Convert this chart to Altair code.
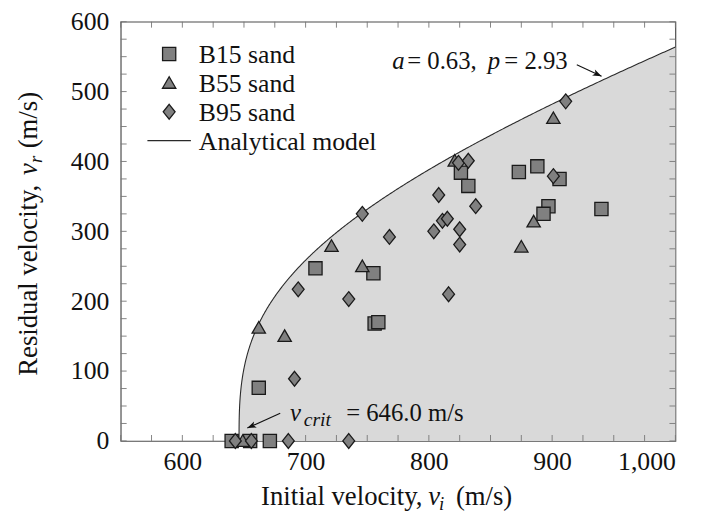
import altair as alt
import numpy as np
import pandas as pd

FONT = "Liberation Serif, DejaVu Serif, serif"

# ---------------- data ----------------
b15_vi = [640, 655, 671, 662, 708, 755, 756, 759, 826, 832, 873, 888, 906, 897, 893, 940]
b15_vr = [0, 0, 0, 76, 247, 240, 168, 170, 384, 365, 385, 393, 375, 336, 325, 332]

b55_vi = [649, 662, 683, 721, 746, 821, 875, 885, 901]
b55_vr = [0, 162, 150, 279, 250, 401, 278, 314, 462]

b95_vi = [643, 656, 686, 735, 691, 694, 735, 746, 768, 804, 811, 815, 808,
          816, 825, 825, 824, 832, 838, 901, 911]
b95_vr = [0, 0, 0, 0, 89, 217, 203, 325, 292, 300, 315, 318, 352,
          210, 303, 281, 398, 401, 336, 379, 486]

series_names = ["B15 sand", "B55 sand", "B95 sand", "Analytical model"]

# analytical model parameters (as annotated on the chart)
a_par = 0.63
p_par = 2.93
v_crit = 646.0
v_max = 1000.0

x_tick_labels = [600, 700, 800, 900, 1000]
y_tick_labels = [0, 100, 200, 300, 400, 500, 600]
x_minor = list(range(550, 1001, 25))
y_minor = list(range(0, 601, 25))

# annotation anchors (data coordinates)
ann1_x = [770.3, 782.4, 847.8, 861.2]
ann1_t = ["a", "= 0.63,", "p", "= 2.93"]
ann1_y = 532.0
ann2_x = [687.4, 698.4, 732.9]
ann2_t = ["v", "crit", "= 646.0 m/s"]
ann2_y = [28.2, 21.2, 28.2]
arrow_x = [920.0, 679.4]
arrow_y = [538.3, 39.5]
arrow_x2 = [940.1, 652.7]
arrow_y2 = [522.0, 18.4]
arrow_ang = [25, 156]

# ---------------- tables ----------------
pts = pd.DataFrame({
    "vi": b15_vi + b55_vi + b95_vi,
    "vr": b15_vr + b55_vr + b95_vr,
    "series": ["B15 sand"] * len(b15_vi) + ["B55 sand"] * len(b55_vi) + ["B95 sand"] * len(b95_vi),
})

t = np.linspace(0.0, 1.0, 400)
vi_m = v_crit + (v_max - v_crit) * t ** 2
vr_m = a_par * np.power(np.maximum(vi_m ** p_par - v_crit ** p_par, 0.0), 1.0 / p_par)
model = pd.DataFrame({"vi": vi_m, "vr": vr_m})

W, H = 561, 424
TICK = 6
MARK_FILL = "#808080"
MARK_STROKE = "#1a1a1a"

xs = alt.Scale(domain=[550, 1000], nice=False, zero=False)
ys = alt.Scale(domain=[0, 600], nice=False, zero=False)

area = alt.Chart(model).mark_area(color="#d9d9d9", opacity=1).encode(
    x=alt.X("vi:Q", scale=xs,
            axis=alt.Axis(values=x_tick_labels, format=",d", title=None, labelPadding=8,
                          labelFont=FONT, labelFontSize=26, labelColor="#111",
                          ticks=False, domain=False, grid=False)),
    y=alt.Y("vr:Q", scale=ys,
            axis=alt.Axis(values=y_tick_labels, title=None, labelPadding=12,
                          labelFont=FONT, labelFontSize=26, labelColor="#111",
                          ticks=False, domain=False, grid=False)),
)
curve = alt.Chart(model).mark_line(color="#2a2a2a", strokeWidth=1.1).encode(
    x="vi:Q", y="vr:Q"
)

xt = pd.DataFrame({"v": x_minor})
yt = pd.DataFrame({"v": y_minor})
tick_style = dict(color="#777", strokeWidth=0.9)
ticks = [
    alt.Chart(xt).mark_rule(**tick_style).encode(x="v:Q", y=alt.value(H), y2=alt.value(H - TICK)),
    alt.Chart(xt).mark_rule(**tick_style).encode(x="v:Q", y=alt.value(0), y2=alt.value(TICK)),
    alt.Chart(yt).mark_rule(**tick_style).encode(y="v:Q", x=alt.value(0), x2=alt.value(TICK)),
    alt.Chart(yt).mark_rule(**tick_style).encode(y="v:Q", x=alt.value(W), x2=alt.value(W - TICK)),
]

shape_paths = [
    "M-0.89,-0.89L0.89,-0.89L0.89,0.89L-0.89,0.89Z",
    "M-0.9,0.72L0.9,0.72L0,-0.84Z",
    "M0,-1L0.8,0L0,1L-0.8,0Z",
]

points = alt.Chart(pts).mark_point(
    filled=True, fill=MARK_FILL, stroke=MARK_STROKE, strokeWidth=1.3, size=225, opacity=1
).encode(
    x="vi:Q",
    y="vr:Q",
    shape=alt.Shape("series:N", scale=alt.Scale(domain=series_names[:3], range=shape_paths),
                    legend=None),
)

# legend (drawn as marks, top-left inside the plot)
LEG_X, LEG_Y0, LEG_DY, LEG_TX = 49, 32.7, 29.2, 79
leg = pd.DataFrame({"series": series_names,
                    "row": list(range(len(series_names)))})
leg_layers = []
for i, name in enumerate(series_names):
    yy = LEG_Y0 + i * LEG_DY
    if i < 3:
        leg_layers.append(
            alt.Chart(leg[leg.row == i]).mark_point(
                shape=shape_paths[i], filled=True, fill=MARK_FILL, stroke=MARK_STROKE,
                strokeWidth=1.3, size=225, opacity=1
            ).encode(x=alt.value(LEG_X), y=alt.value(yy))
        )
    else:
        leg_layers.append(
            alt.Chart(leg[leg.row == i]).mark_rule(color="#2a2a2a", strokeWidth=1.1).encode(
                x=alt.value(LEG_X - 22), x2=alt.value(LEG_X + 22), y=alt.value(yy))
        )
    leg_layers.append(
        alt.Chart(leg[leg.row == i]).mark_text(
            align="left", baseline="middle", font=FONT, fontSize=26, color="#111"
        ).encode(x=alt.value(LEG_TX), y=alt.value(yy + 1), text="series:N")
    )

# arrows
arr = pd.DataFrame({"x": arrow_x, "y": arrow_y, "x2": arrow_x2, "y2": arrow_y2, "ang": arrow_ang})
arrow_lines = alt.Chart(arr).mark_rule(color="#111", strokeWidth=1.1).encode(
    x="x:Q", y="y:Q", x2="x2:Q", y2="y2:Q")
arrow_heads = alt.Chart(arr).mark_point(
    shape="M0,0L-2,-0.75L-1.5,0L-2,0.75Z", filled=True, fill="#111", size=81, opacity=1
).encode(x="x2:Q", y="y2:Q", angle=alt.Angle("ang:Q", scale=None))

# annotation text
def seg(df, italic, size):
    return alt.Chart(df).mark_text(
        align="left", baseline="alphabetic", font=FONT, fontSize=size,
        fontStyle="italic" if italic else "normal", color="#111"
    ).encode(x="x:Q", y="y:Q", text="t:N")

ann_it = pd.DataFrame({"x": [ann1_x[0], ann1_x[2], ann2_x[0]],
                       "y": [ann1_y, ann1_y, ann2_y[0]],
                       "t": [ann1_t[0], ann1_t[2], ann2_t[0]]})
ann_rm = pd.DataFrame({"x": [ann1_x[1], ann1_x[3], ann2_x[2]],
                       "y": [ann1_y, ann1_y, ann2_y[2]],
                       "t": [ann1_t[1], ann1_t[3], ann2_t[2]]})
ann_sub = pd.DataFrame({"x": [ann2_x[1]], "y": [ann2_y[1]], "t": [ann2_t[1]]})

one = pd.DataFrame({"d": [0]})

def title_seg(text, vx, vy, size, italic=False, angle=0):
    kw = dict(align="left", baseline="alphabetic", font=FONT, fontSize=size,
              fontStyle="italic" if italic else "normal", color="#111", text=text)
    if angle:
        kw["angle"] = angle
    return alt.Chart(one).mark_text(**kw).encode(x=alt.value(vx), y=alt.value(vy))

titles = [
    title_seg("Initial velocity,", 142, 489, 27),
    title_seg("v", 311, 489, 27, italic=True),
    title_seg("i", 322, 494, 19, italic=True),
    title_seg("(m/s)", 339, 489, 27),
    title_seg("Residual velocity,", -85, 358, 27, angle=270),
    title_seg("v", -85, 155, 27, italic=True, angle=270),
    title_seg("r", -80, 143, 19, italic=True, angle=270),
    title_seg("(m/s)", -85, 128, 27, angle=270),
]

chart = alt.layer(
    area, curve, *ticks, points, arrow_lines, arrow_heads,
    seg(ann_it, True, 25), seg(ann_rm, False, 25), seg(ann_sub, True, 20),
    *leg_layers, *titles,
).properties(
    width=W, height=H,
    autosize=alt.AutoSizeParams(type="none"),
    padding={"left": 114, "top": 11, "right": 35, "bottom": 70},
).configure_view(stroke="#4d4d4d", strokeWidth=1.2)

chart.save("out.html", embed_options={"renderer": "svg", "actions": False})
